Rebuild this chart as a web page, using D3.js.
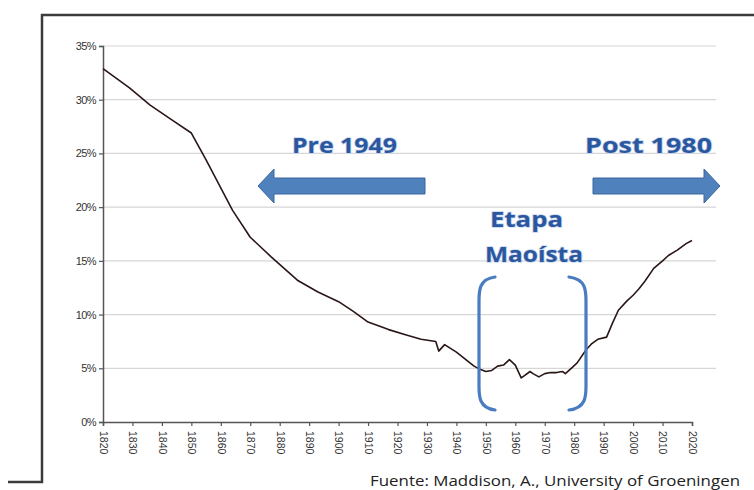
<!DOCTYPE html>
<html>
<head>
<meta charset="utf-8">
<script src="https://cdn.jsdelivr.net/npm/d3@7"></script>
<style>
  html, body { margin: 0; padding: 0; background: #fff; }
  svg { display: block; }
</style>
</head>
<body>
<svg id="chart" width="754" height="490"></svg>
<script>
// ---- data (China's share of world GDP, Maddison) ----
const years = [1820,1829,1836,1843,1850,1855,1864,1870,1877,1886,1893,1900,1905,1910,1917,1923,1928,1933,1934,1936,1940,1946,1948,1950,1952,1954,1956,1958,1960,1962,1963,1965,1966,1968,1970,1972,1974,1976,1977,1979,1981,1984,1986,1988,1991,1993,1995,1998,2000,2002,2004,2007,2010,2012,2015,2018,2020];
const share = [32.9,31.1,29.5,28.2,26.9,24.4,19.7,17.2,15.4,13.2,12.1,11.2,10.3,9.3,8.6,8.1,7.7,7.5,6.6,7.2,6.5,5.2,4.9,4.7,4.8,5.2,5.3,5.8,5.3,4.1,4.3,4.7,4.5,4.2,4.5,4.6,4.6,4.7,4.5,5.0,5.5,6.7,7.3,7.7,7.9,9.2,10.4,11.3,11.8,12.4,13.1,14.3,15.0,15.5,16.0,16.6,16.9];
const yTicks = [0,5,10,15,20,25,30,35];
const xTicks = d3.range(1820, 2021, 10);
const annotations = ["Pre 1949", "Post 1980", "Etapa", "Maoísta"];
const source = "Fuente: Maddison, A., University of Groeningen";

const svg = d3.select("#chart");
const x = d3.scaleLinear().domain([1820, 2020]).range([103, 692]);
const y = d3.scaleLinear().domain([0, 35]).range([422, 46]);

// outer frame
svg.append("path")
  .attr("d", "M8,482 H42 V15 H754")
  .attr("fill", "none").attr("stroke", "#3c3c3c").attr("stroke-width", 2.5);

// gridlines
svg.append("g").selectAll("line").data(yTicks.filter(d => d > 0)).join("line")
  .attr("x1", x(1820)).attr("x2", 716)
  .attr("y1", d => y(d)).attr("y2", d => y(d))
  .attr("stroke", "#d6d6d6").attr("stroke-width", 1.2);

// y axis
const yAxis = svg.append("g").attr("transform", `translate(${x(1820)},0)`)
  .call(d3.axisLeft(y).tickValues(yTicks).tickSize(4).tickPadding(3).tickFormat(d => d + "%"));
yAxis.select(".domain").attr("stroke", "#555").attr("stroke-width", 1.5);
yAxis.selectAll(".tick line").attr("stroke", "#555").attr("stroke-width", 1.2);
yAxis.selectAll("text").attr("font-family", "Liberation Sans, Arial, sans-serif")
  .attr("font-size", 11).attr("fill", "#333").attr("letter-spacing", -0.6);

// x axis
const xAxis = svg.append("g").attr("transform", `translate(0,${y(0)})`)
  .call(d3.axisBottom(x).tickValues(xTicks).tickSize(4).tickFormat(d3.format("d")));
xAxis.select(".domain").attr("stroke", "#555").attr("stroke-width", 1.5);
xAxis.selectAll(".tick line").attr("stroke", "#555").attr("stroke-width", 1.2);
xAxis.selectAll("text")
  .attr("font-family", "Liberation Sans, Arial, sans-serif")
  .attr("font-size", 10.5).attr("fill", "#333")
  .attr("transform", "rotate(90)")
  .attr("x", 9).attr("y", 0).attr("dy", "0.35em")
  .attr("text-anchor", "start");

// data line
const line = d3.line().x((d, i) => x(years[i])).y(d => y(d));
svg.append("path").datum(share)
  .attr("d", line)
  .attr("fill", "none").attr("stroke", "#2a1616").attr("stroke-width", 1.6)
  .attr("stroke-linejoin", "round");

// arrows
const blue = "#4f81bd", blueEdge = "#3a679e";
function arrow(x0, x1, dir) {
  const cy = 186, bh = 8, hh = 17, hl = 16;
  let p;
  if (dir < 0) {
    p = `M${x0},${cy} L${x0+hl},${cy-hh} L${x0+hl},${cy-bh} L${x1},${cy-bh} L${x1},${cy+bh} L${x0+hl},${cy+bh} L${x0+hl},${cy+hh} Z`;
  } else {
    p = `M${x1},${cy} L${x1-hl},${cy-hh} L${x1-hl},${cy-bh} L${x0},${cy-bh} L${x0},${cy+bh} L${x1-hl},${cy+bh} L${x1-hl},${cy+hh} Z`;
  }
  svg.append("path").attr("d", p).attr("fill", blue).attr("stroke", blueEdge).attr("stroke-width", 1);
}
arrow(258, 425, -1);
arrow(593, 720, 1);

// brackets
function bracket(xa, xb, side) {
  const t = 277, b = 410;
  const p = side < 0
    ? `M${xb},${t} C${xa},${t+2} ${xa},${t+14} ${xa},${t+24} L${xa},${b-24} C${xa},${b-14} ${xa},${b-2} ${xb},${b}`
    : `M${xa},${t} C${xb},${t+2} ${xb},${t+14} ${xb},${t+24} L${xb},${b-24} C${xb},${b-14} ${xb},${b-2} ${xa},${b}`;
  svg.append("path").attr("d", p).attr("fill", "none")
    .attr("stroke", "#4a7cc0").attr("stroke-width", 3.2).attr("stroke-linecap", "round");
}
bracket(479, 495, -1);
bracket(569, 586, 1);

// annotation texts
const txt = [
  {t: annotations[0], x: 292, y: 153, w: 105},
  {t: annotations[1], x: 585, y: 153, w: 127},
  {t: annotations[2], x: 490, y: 227, w: 73},
  {t: annotations[3], x: 485, y: 262, w: 98}
];
svg.append("g").selectAll("text").data(txt).join("text")
  .attr("x", d => d.x).attr("y", d => d.y)
  .attr("textLength", d => d.w).attr("lengthAdjust", "spacingAndGlyphs")
  .attr("font-family", "Open Sans, sans-serif").attr("font-weight", "bold")
  .attr("font-size", 22).attr("fill", "#2b579e")
  .attr("stroke", "#c9d7ef").attr("stroke-width", 1.5).attr("paint-order", "stroke")
  .text(d => d.t);

// source
svg.append("text").attr("x", 370).attr("y", 486)
  .attr("textLength", 370).attr("lengthAdjust", "spacingAndGlyphs")
  .attr("font-family", "Open Sans, sans-serif").attr("font-size", 15).attr("fill", "#222")
  .text(source);
</script>
</body>
</html>
